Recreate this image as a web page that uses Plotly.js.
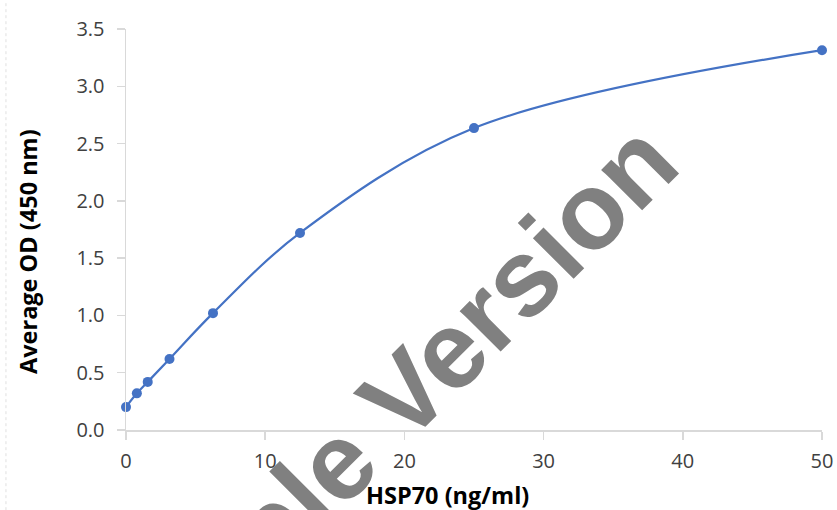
<!DOCTYPE html>
<html>
<head>
<meta charset="utf-8">
<script src="https://cdn.plot.ly/plotly-3.0.1.min.js"></script>
<style>html,body{margin:0;padding:0;background:#fff;}#chart{width:837px;height:510px;}</style>
</head>
<body>
<div id="chart"></div>
<script>
const concentration = [0, 0.78, 1.56, 3.125, 6.25, 12.5, 25, 50];
const averageOD = [0.20, 0.32, 0.42, 0.62, 1.02, 1.72, 2.635, 3.315];
const xTicks = [0, 10, 20, 30, 40, 50];
const yTicks = [0, 0.5, 1.0, 1.5, 2.0, 2.5, 3.0, 3.5];
const yTickLabels = ["0.0", "0.5", "1.0", "1.5", "2.0", "2.5", "3.0", "3.5"];
const xTitle = 'HSP70 (ng/ml)';
const yTitle = 'Average OD (450 nm)';
const watermark = 'Sample Version';

const trace = {
  x: concentration,
  y: averageOD,
  type: 'scatter',
  mode: 'lines+markers',
  line: {color: '#4472C4', width: 2.2, shape: 'spline', smoothing: 1},
  marker: {color: '#4472C4', size: 10},
  cliponaxis: false,
  hoverinfo: 'none'
};

const tickFont = {family: 'Open Sans, sans-serif', size: 20, color: '#404040'};
const titleFont = {family: 'Open Sans, sans-serif', size: 23.5, color: '#000000', weight: 'bold'};

const layout = {
  width: 837, height: 510,
  margin: {l: 126, r: 15, t: 29, b: 80},
  paper_bgcolor: '#ffffff', plot_bgcolor: '#ffffff',
  showlegend: false,
  xaxis: {
    range: [0, 50], tickvals: xTicks, ticktext: xTicks.map(String),
    showgrid: false, zeroline: false, showline: true, linecolor: '#d9d9d9', linewidth: 1.5,
    ticks: 'outside', ticklen: 8, tickcolor: '#d9d9d9', tickwidth: 1.5,
    tickfont: tickFont, ticklabelstandoff: 4
  },
  yaxis: {
    range: [0, 3.5], tickvals: yTicks, ticktext: yTickLabels,
    showgrid: false, zeroline: false, showline: true, linecolor: '#d9d9d9', linewidth: 1.5,
    ticks: 'outside', ticklen: 8, tickcolor: '#d9d9d9', tickwidth: 1.5,
    tickfont: tickFont, ticklabelstandoff: 8
  },
  shapes: [{
    type: 'line', xref: 'paper', yref: 'paper', x0: -0.1725, x1: -0.1725, y0: -0.2, y1: 1.07,
    line: {color: '#e0e0e0', width: 1, dash: 'dot'}
  }],
  annotations: [
    {
      text: '<b>' + watermark + '</b>', xref: 'x', yref: 'y', x: 17.5, y: 0.01,
      showarrow: false, textangle: -45,
      font: {family: 'Liberation Sans, Arial, sans-serif', size: 109, color: '#808080'}
    },
    {
      text: '<b>' + xTitle + '</b>', xref: 'paper', yref: 'paper',
      x: (447 - 126) / 696, y: -(495 - 430) / 401, xanchor: 'center', yanchor: 'middle',
      showarrow: false, font: titleFont, borderpad: 0
    },
    {
      text: '<b>' + yTitle + '</b>', xref: 'paper', yref: 'paper',
      x: -(126 - 28) / 696, y: (430 - 252) / 401, xanchor: 'center', yanchor: 'middle',
      showarrow: false, textangle: -90, font: titleFont, borderpad: 0
    }
  ]
};

Plotly.newPlot('chart', [trace], layout, {displayModeBar: false, staticPlot: true});
</script>
</body>
</html>
